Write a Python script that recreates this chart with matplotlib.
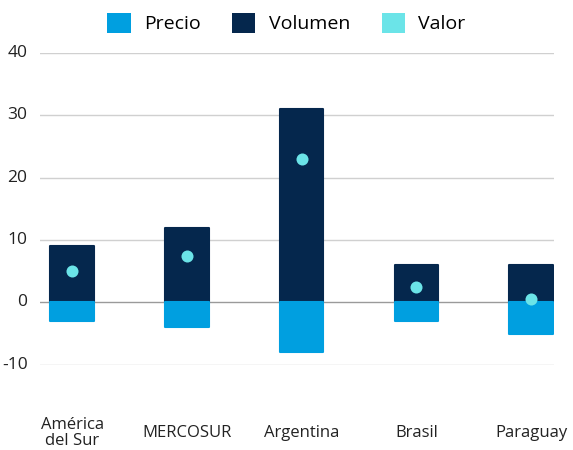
import matplotlib.pyplot as plt
import numpy as np
from matplotlib.patches import Patch

plt.rcParams['font.family'] = ['Open Sans', 'DejaVu Sans']

categories = ["América\ndel Sur", "MERCOSUR", "Argentina", "Brasil", "Paraguay"]
precio = [-3, -4, -8, -3, -5]
volumen = [9, 12, 31, 6, 6]
valor = [5, 7.5, 23, 2.5, 0.5]
yticks = [-10, 0, 10, 20, 30, 40]

c_precio = "#009FE0"
c_volumen = "#05274D"
c_valor = "#6BE4E8"

fig = plt.figure(figsize=(5.73, 4.5), dpi=100)
ax = fig.add_axes([0.07, 0.189, 0.897, 0.694])

x = np.arange(len(categories))
w = 0.38

# gridlines, zero line a bit darker, all behind the bars
for t in yticks:
    ax.axhline(t, color="#9a9a9a" if t == 0 else "#d0d0d0", lw=1, zorder=0)

ax.bar(x, volumen, width=w, color=c_volumen, edgecolor=c_volumen,
       linewidth=1.5, joinstyle="round", zorder=2)
ax.bar(x, precio, width=w, color=c_precio, edgecolor=c_precio,
       linewidth=1.5, joinstyle="round", zorder=2)
ax.scatter(x, valor, s=75, color=c_valor, zorder=3, linewidths=0)

ax.set_xlim(-0.28, 4.2)
ax.set_ylim(-10, 40)
ax.set_yticks(yticks)
ax.set_yticklabels([str(t) for t in yticks], fontsize=12.5, color="#222222")
ax.set_xticks(x)
ax.set_xticklabels(categories, fontsize=12, color="#222222", linespacing=1.0)
ax.tick_params(axis="both", length=0)
ax.tick_params(axis="x", pad=49)
ax.tick_params(axis="y", pad=9)
for lbl in ax.get_xticklabels():
    lbl.set_verticalalignment("center")
for lbl in ax.get_yticklabels():
    lbl.set_verticalalignment("center")
for s in ax.spines.values():
    s.set_visible(False)

handles = [Patch(facecolor=c_precio, label="Precio"),
           Patch(facecolor=c_volumen, label="Volumen"),
           Patch(facecolor=c_valor, label="Valor")]
fig.legend(handles=handles, loc="center", bbox_to_anchor=(0.5, 0.949), ncol=3,
           frameon=False, fontsize=14, handlelength=1.2, handleheight=1.2,
           columnspacing=1.6, handletextpad=0.7)

fig.savefig("out.png", dpi=100)
